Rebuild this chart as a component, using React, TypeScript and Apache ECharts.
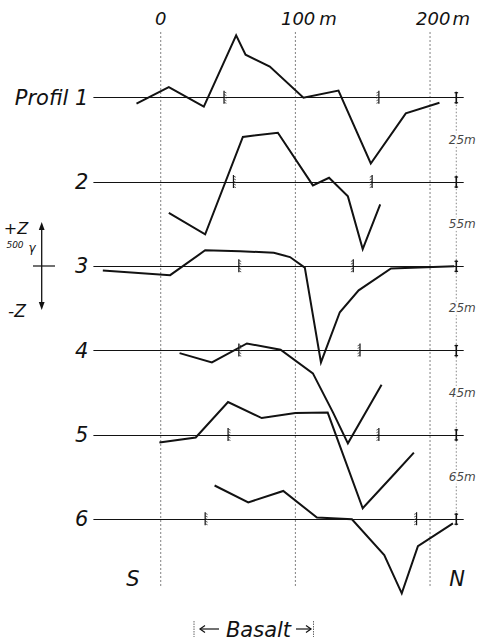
import React, { useEffect, useRef } from "react";
import * as echarts from "echarts";

// Magnetic vertical-field anomaly profiles, S -> N. Each point: [distance m, ΔZ γ]
const PROFILE_LABELS = ["Profil 1", "2", "3", "4", "5", "6"];

const PROFILE_1 = [[-18, -70], [6, 125], [32, -105], [56, 740], [63, 510], [81, 370], [106, 0], [132, 85], [156, -780], [182, -185], [207, -60]];
const PROFILE_2 = [[6, -365], [33, -620], [61, 535], [87, 585], [113, -40], [125, 50], [139, -170], [150, -795], [163, -265]];
const PROFILE_3 = [[-43, -50], [7, -105], [33, 190], [59, 180], [84, 160], [96, 110], [107, -15], [119, -1140], [133, -545], [147, -285], [171, -25], [218, 0]];
const PROFILE_4 = [[14, -30], [38, -140], [64, 85], [89, 10], [113, -270], [128, -735], [139, -1100], [164, -405]];
const PROFILE_5 = [[-1, -90], [26, -30], [50, 390], [75, 200], [100, 260], [124, 265], [150, -870], [174, -455], [188, -210]];
const PROFILE_6 = [[40, 400], [65, 200], [91, 335], [116, 20], [142, 0], [166, -425], [179, -880], [191, -320], [217, -50]];

const PROFILES = [PROFILE_1, PROFILE_2, PROFILE_3, PROFILE_4, PROFILE_5, PROFILE_6];

// Basalt contacts on each profile (m)
const CONTACT_S = [47, 54, 58, 58, 50, 33];
const CONTACT_N = [162, 157, 143, 148, 162, 190];

// Spacing between neighbouring profiles
const SPACINGS = ["25m", "55m", "25m", "45m", "65m"];
const SPACING_X = 219.5;

// Distance reference lines and their labels
const X_TICKS = [0, 100, 200];
const X_LABELS = ["0", "100 m", "200m"];

// Vertical offset between stacked profiles (γ)
const STEP = 1000;

const FONT = "DejaVu Sans";
const INK = "#121212";

const offsetOf = (k: number) => -k * STEP;

// contact mark: short vertical stroke with hatching on the basalt side (dir = +1 right, -1 left)
function renderContact(_params: any, api: any) {
  const [x, y] = api.coord([api.value(0), api.value(1)]);
  const dir = api.value(2);
  const children: any[] = [
    { type: "line", shape: { x1: x, y1: y - 7, x2: x, y2: y + 6 }, style: { stroke: INK, lineWidth: 1.2 } },
  ];
  for (let i = 0; i < 5; i++) {
    const yy = y - 6 + i * 2.6;
    children.push({
      type: "line",
      shape: { x1: x, y1: yy, x2: x + dir * 2.4, y2: yy + 1.2 },
      style: { stroke: "#333", lineWidth: 0.8 },
    });
  }
  return { type: "group", children };
}

// dimension tick where the spacing line meets a baseline
function renderSpacingTick(_params: any, api: any) {
  const [x, y] = api.coord([api.value(0), api.value(1)]);
  return {
    type: "group",
    children: [
      { type: "line", shape: { x1: x, y1: y - 6, x2: x, y2: y + 6 }, style: { stroke: INK, lineWidth: 1.6 } },
      { type: "line", shape: { x1: x - 1.8, y1: y - 5, x2: x + 1.8, y2: y - 5 }, style: { stroke: INK, lineWidth: 1.2 } },
      { type: "line", shape: { x1: x - 1.8, y1: y + 5, x2: x + 1.8, y2: y + 5 }, style: { stroke: INK, lineWidth: 1.2 } },
    ],
  };
}

function buildOption() {
  const series: any[] = [];

  // distance reference lines
  X_TICKS.forEach((x) => {
    series.push({
      type: "line",
      data: [[x, 780], [x, -5800]],
      symbol: "none",
      silent: true,
      z: 1,
      lineStyle: { color: "#707070", width: 0.9, type: [2, 2] },
    });
  });

  // profiles with baselines
  PROFILES.forEach((pts, k) => {
    series.push({
      type: "line",
      data: pts.map(([m, g]) => [m, g + offsetOf(k)]),
      symbol: "none",
      z: 4,
      lineStyle: { color: INK, width: 2, join: "miter" },
      markLine: {
        silent: true,
        symbol: ["none", "none"],
        label: { show: false },
        lineStyle: { color: INK, width: 1.2, type: "solid" },
        data: [{ yAxis: offsetOf(k) }],
      },
    });
  });

  // basalt contacts
  series.push({
    type: "custom",
    renderItem: renderContact,
    z: 5,
    silent: true,
    data: [
      ...CONTACT_S.map((m, k) => [m, offsetOf(k), 1]),
      ...CONTACT_N.map((m, k) => [m, offsetOf(k), -1]),
    ],
  });

  // spacing dimension line
  series.push({
    type: "line",
    data: [[SPACING_X, offsetOf(0)], [SPACING_X, offsetOf(PROFILES.length - 1)]],
    symbol: "none",
    silent: true,
    z: 2,
    lineStyle: { color: "#777", width: 0.9, type: [1.5, 2] },
  });
  series.push({
    type: "custom",
    renderItem: renderSpacingTick,
    z: 5,
    silent: true,
    data: PROFILES.map((_, k) => [SPACING_X, offsetOf(k)]),
  });
  series.push({
    type: "scatter",
    data: SPACINGS.map((s, k) => ({ value: [SPACING_X, offsetOf(k) - STEP / 2], name: s })),
    symbolSize: 0,
    z: 6,
    label: {
      show: true,
      position: "inside",
      offset: [6, 0],
      formatter: (p: any) => p.name,
      fontFamily: FONT,
      fontStyle: "italic",
      fontSize: 12,
      color: INK,
      backgroundColor: "#fff",
      padding: [1, 0],
    },
  });

  const graphic: any[] = [
    // +Z / -Z scale arrow
    { type: "line", shape: { x1: 41.7, y1: 226, x2: 41.7, y2: 306 }, style: { stroke: INK, lineWidth: 1.3 } },
    { type: "polygon", shape: { points: [[41.7, 222], [38.8, 230], [44.6, 230]] }, style: { fill: INK } },
    { type: "polygon", shape: { points: [[41.7, 310], [38.8, 302], [44.6, 302]] }, style: { fill: INK } },
    { type: "line", shape: { x1: 33, y1: 266, x2: 55, y2: 266 }, style: { stroke: INK, lineWidth: 1.2 } },
    { type: "text", x: 16, y: 228, style: { text: "+Z", fontFamily: FONT, fontStyle: "italic", fontSize: 16, fill: INK, textAlign: "center", textVerticalAlign: "middle" } },
    { type: "text", x: 15, y: 245, style: { text: "500", fontFamily: FONT, fontStyle: "italic", fontSize: 9, fill: INK, textAlign: "center", textVerticalAlign: "middle" } },
    { type: "text", x: 32, y: 248, style: { text: "γ", fontFamily: FONT, fontStyle: "italic", fontSize: 12, fill: INK, textAlign: "center", textVerticalAlign: "middle" } },
    { type: "text", x: 17, y: 311, style: { text: "-Z", fontFamily: FONT, fontStyle: "italic", fontSize: 17, fill: INK, textAlign: "center", textVerticalAlign: "middle" } },
    // S / N
    { type: "text", x: 133, y: 579, style: { text: "S", fontFamily: FONT, fontStyle: "italic", fontSize: 21, fill: INK, textAlign: "center", textVerticalAlign: "middle" } },
    { type: "text", x: 457, y: 579, style: { text: "N", fontFamily: FONT, fontStyle: "italic", fontSize: 21, fill: INK, textAlign: "center", textVerticalAlign: "middle" } },
    // basalt key
    { type: "text", x: 258.5, y: 630, style: { text: "Basalt", fontFamily: FONT, fontStyle: "italic", fontSize: 21, fill: INK, textAlign: "center", textVerticalAlign: "middle" } },
    { type: "line", shape: { x1: 200, y1: 629, x2: 219, y2: 629 }, style: { stroke: INK, lineWidth: 1.2 } },
    { type: "polyline", shape: { points: [[205, 625.5], [200, 629], [205, 632.5]] }, style: { stroke: INK, lineWidth: 1.2, fill: "none" } },
    { type: "line", shape: { x1: 296, y1: 629, x2: 311, y2: 629 }, style: { stroke: INK, lineWidth: 1.2 } },
    { type: "polyline", shape: { points: [[306, 625.5], [311, 629], [306, 632.5]] }, style: { stroke: INK, lineWidth: 1.2, fill: "none" } },
    { type: "line", shape: { x1: 194, y1: 621, x2: 194, y2: 637 }, style: { stroke: "#666", lineWidth: 1, lineDash: [1.5, 1] } },
    { type: "line", shape: { x1: 313.5, y1: 621, x2: 313.5, y2: 637 }, style: { stroke: "#666", lineWidth: 1, lineDash: [1.5, 1] } },
  ];

  return {
    animation: false,
    backgroundColor: "#fff",
    grid: { left: 93.4, top: 30.3, width: 370.3, height: 573.2, containLabel: false },
    xAxis: {
      type: "value",
      position: "top",
      min: -50,
      max: 225,
      interval: 50,
      axisLine: { show: false },
      axisTick: { show: false },
      splitLine: { show: false },
      axisLabel: {
        margin: 3,
        fontFamily: FONT,
        fontStyle: "italic",
        fontSize: 18,
        color: INK,
        formatter: (v: number) => {
          const i = X_TICKS.indexOf(v);
          if (i < 0) return "";
          const m = X_LABELS[i].match(/^(\d+)(\s*)(m?)$/);
          if (!m || !m[3]) return `{n|${X_LABELS[i]}}`;
          return m[2] ? `{nw|${m[1]}}{uw|${m[3]}}` : `{nt|${m[1]}}{ut|${m[3]}}`;
        },
        rich: {
          n: { fontFamily: FONT, fontStyle: "italic", fontSize: 18, color: INK },
          nw: { fontFamily: FONT, fontStyle: "italic", fontSize: 18, color: INK, padding: [0, 0, 0, 27] },
          uw: { fontFamily: FONT, fontStyle: "italic", fontSize: 18, color: INK, padding: [0, 0, 0, 4] },
          nt: { fontFamily: FONT, fontStyle: "italic", fontSize: 18, color: INK, padding: [0, 0, 0, 26] },
          ut: { fontFamily: FONT, fontStyle: "italic", fontSize: 18, color: INK, padding: [0, 0, 0, 2] },
        },
      },
    },
    yAxis: {
      type: "value",
      min: -6000,
      max: 800,
      interval: STEP,
      axisLine: { show: false },
      axisTick: { show: false },
      splitLine: { show: false },
      axisLabel: {
        margin: 5,
        fontFamily: FONT,
        fontStyle: "italic",
        fontSize: 21,
        color: INK,
        formatter: (v: number) => {
          const k = Math.round(-v / STEP);
          if (k < 0 || k >= PROFILE_LABELS.length || Math.abs(v - offsetOf(k)) > 1) return "";
          return PROFILE_LABELS[k];
        },
      },
    },
    series,
    graphic,
  };
}

export default function App() {
  const ref = useRef<HTMLDivElement>(null);
  useEffect(() => {
    const chart = echarts.init(ref.current!, null, { renderer: "svg" });
    chart.setOption(buildOption());
    return () => chart.dispose();
  }, []);
  return (
    <div
      ref={ref}
      style={{ position: "fixed", left: 0, top: 0, width: 479, height: 643, background: "#fff" }}
    />
  );
}
